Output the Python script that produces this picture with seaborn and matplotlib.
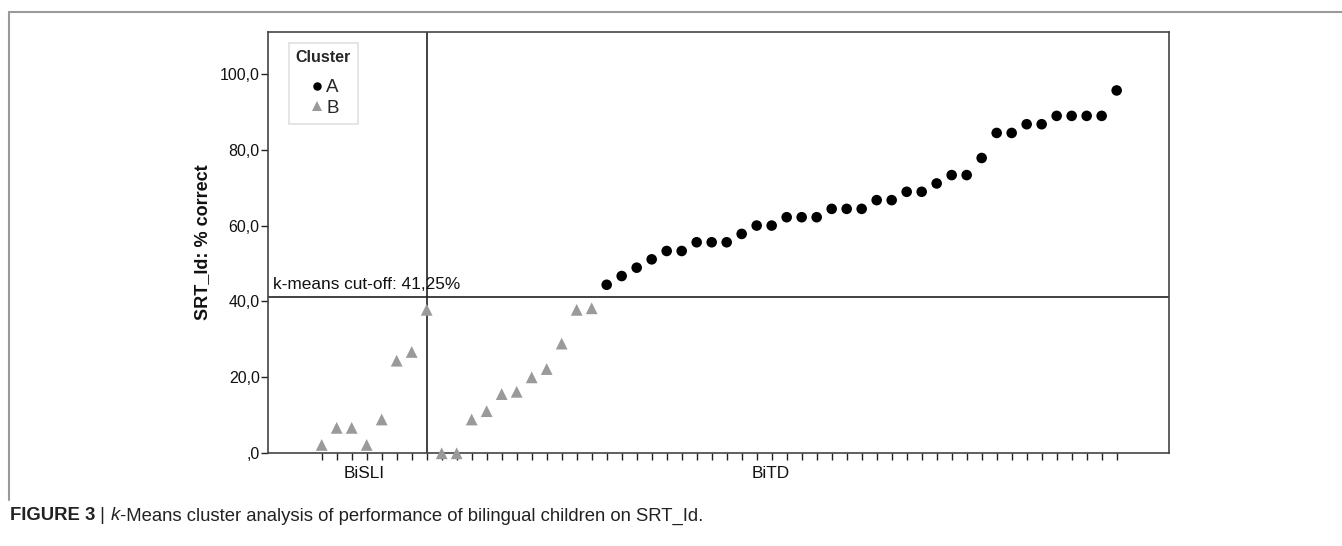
import matplotlib
matplotlib.use("Agg")
import matplotlib.pyplot as plt
import matplotlib.transforms as mtransforms
from matplotlib.lines import Line2D
import seaborn as sns
import pandas as pd

# Participants ordered by group, then by score
groups = ["BiSLI"] * 8 + ["BiTD"] * 46
clusters = ["B"] * 8 + ["B"] * 11 + ["A"] * 35
scores = [
    # BiSLI
    2.2, 6.7, 6.7, 2.2, 8.9, 24.4, 26.7, 37.8,
    # BiTD, cluster B
    0.0, 0.0, 8.9, 11.1, 15.6, 16.2, 20.0, 22.2, 28.9, 37.8, 38.2,
    # BiTD, cluster A
    44.4, 46.7, 48.9, 51.1, 53.3, 53.3, 55.6, 55.6, 55.6, 57.8,
    60.0, 60.0, 62.2, 62.2, 62.2, 64.4, 64.4, 64.4, 66.7, 66.7,
    68.9, 68.9, 71.1, 73.3, 73.3, 77.8, 84.4, 84.4, 86.7, 86.7,
    88.9, 88.9, 88.9, 88.9, 95.6,
]
cutoff = 41.25
group_boundary = 8
y_ticks = [0, 20, 40, 60, 80, 100]
y_tick_labels = [",0", "20,0", "40,0", "60,0", "80,0", "100,0"]
group_labels = ["BiSLI", "BiTD"]
group_label_x = [3.82, 30.95]

df = pd.DataFrame({
    "case": range(1, len(scores) + 1),
    "group": groups,
    "Cluster": clusters,
    "score": scores,
})

sns.set_theme(style="white")
plt.rcParams["font.family"] = ["Liberation Sans", "DejaVu Sans"]

fig = plt.figure(figsize=(13.42, 5.46), dpi=100)
ax = fig.add_axes([0.1997, 0.1698, 0.6714, 0.7716])

sns.scatterplot(
    data=df, x="case", y="score", hue="Cluster", style="Cluster", size="Cluster",
    hue_order=["A", "B"], style_order=["A", "B"], size_order=["A", "B"],
    palette={"A": "black", "B": "#9a9a9a"},
    markers={"A": "o", "B": "^"},
    sizes={"A": 58, "B": 72},
    linewidth=0, clip_on=False, ax=ax, zorder=3,
)

ax.set_xlim(-2.58, 57.49)
ax.set_ylim(0, 111)

# reference lines
ax.axhline(cutoff, color="#222222", lw=1.2, zorder=2)
ax.axvline(group_boundary, color="#222222", lw=1.2, zorder=2)
ax.text(0.006, cutoff + 1.3, "k-means cut-off: 41,25%",
        transform=mtransforms.blended_transform_factory(ax.transAxes, ax.transData),
        fontsize=12.4, color="#111111", va="bottom", ha="left")

# axes styling
for sp in ax.spines.values():
    sp.set_visible(True)
    sp.set_color("#444444")
    sp.set_linewidth(1.2)

ax.set_xticks(df["case"])
ax.set_xticklabels([])
ax.tick_params(axis="x", which="major", direction="out", length=5, width=1,
               color="#222222", bottom=True)
ax.set_yticks(y_ticks)
ax.set_yticklabels(y_tick_labels)
ax.tick_params(axis="y", which="major", direction="out", length=5, width=1,
               color="#222222", left=True, labelsize=11.5, labelcolor="#111111", pad=1)
ax.set_xlabel("")
ax.set_ylabel("SRT_Id: % correct", fontsize=13, fontweight="bold", color="#111111", labelpad=6)

for lab, xpos in zip(group_labels, group_label_x):
    ax.text(xpos, -5.2, lab, ha="center", va="center", fontsize=12.4,
            color="#111111")

# legend
leg = ax.legend(loc="upper left", bbox_to_anchor=(0.023, 0.974), borderaxespad=0,
                title="Cluster", frameon=True, fancybox=False, fontsize=13.5,
                title_fontsize=11.5, handletextpad=0.05, handlelength=0.9,
                labelspacing=0.2, borderpad=0.38, markerscale=0.8)
leg.get_title().set_fontweight("bold")
leg._legend_box.sep = 10
leg.get_frame().set_edgecolor("#d8d8d8")
leg.get_frame().set_linewidth(1.2)

# page frame: top and left rules
fig.add_artist(Line2D([0.0067, 1.0], [0.978, 0.978], transform=fig.transFigure,
                      color="#9a9a9a", lw=1.5))
fig.add_artist(Line2D([0.0067, 0.0067], [0.978, 0.084], transform=fig.transFigure,
                      color="#9a9a9a", lw=1.5))

# caption with mixed styles
fig.canvas.draw()
renderer = fig.canvas.get_renderer()
pieces = [("FIGURE 3", "bold", "normal"), (" | ", "normal", "normal"),
          ("k", "normal", "italic"),
          ("-Means cluster analysis of performance of bilingual children on SRT_Id.",
           "normal", "normal")]
x_px = 10
for txt, weight, style in pieces:
    t = fig.text(x_px / fig.bbox.width, 0.055, txt, fontsize=13.3,
                 fontweight=weight, fontstyle=style, color="#222222",
                 va="center", ha="left")
    x_px += t.get_window_extent(renderer).width

fig.savefig("out.png", dpi=100)
